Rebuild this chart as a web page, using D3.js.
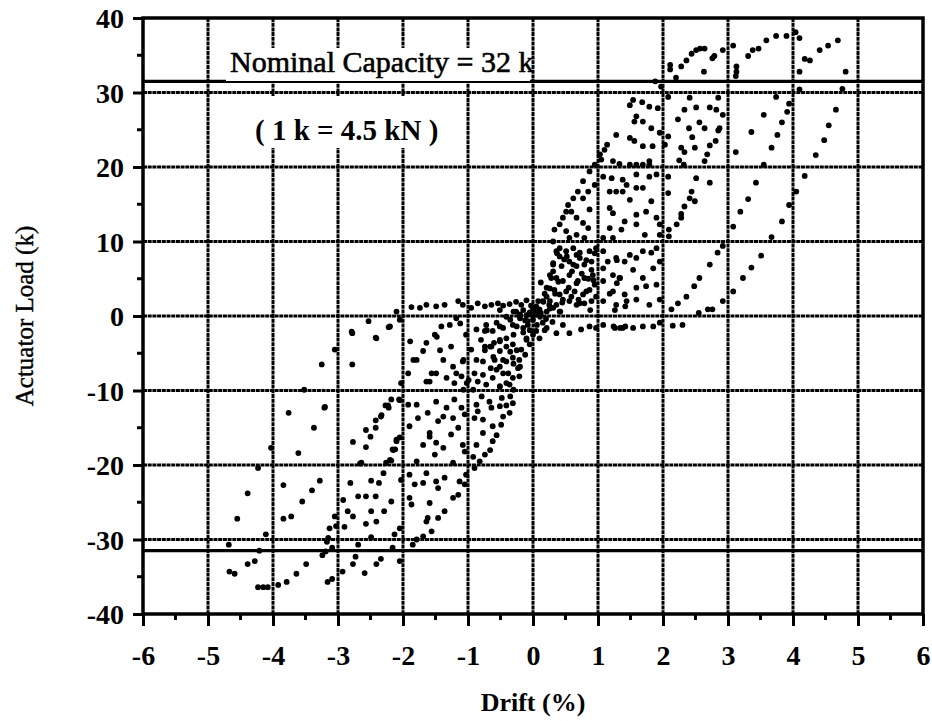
<!DOCTYPE html>
<html>
<head>
<meta charset="utf-8">
<script src="https://cdn.jsdelivr.net/npm/d3@7"></script>
<style>
  body { margin: 0; background: #fff; }
  svg { display: block; }
  text { font-family: "Liberation Serif", "Times New Roman", serif; fill: #000; }
</style>
</head>
<body>
<div id="chart"></div>
<script>
// drift (%) vs actuator load (k)
let posOuter = [
  [2.11,33.7],[2.11,33.1],[2.20,32.0],[2.28,33.5],[2.36,34.3],[2.44,35.2],[2.51,35.7],[2.57,35.9],[2.64,35.9],[2.63,32.8],
  [2.76,34.6],[2.79,34.9],[2.92,35.7],[3.08,36.3],[3.13,33.5],[3.13,32.8],[3.12,32.2],[3.31,34.9],[3.38,35.7],[3.47,35.9],
  [3.59,37.0],[3.74,37.6],[3.90,37.6],[4.04,38.1],[4.10,37.3],[4.10,32.8],[4.18,34.5],[4.26,34.3],[4.41,35.7],[4.54,36.3],
  [4.69,37.0],[4.81,32.8],[1.88,31.5],[1.97,30.8],
  [2.08,29.4],[2.41,29.3],[2.85,29.3],[2.33,27.7],[2.51,28.0],[2.72,28.0],[2.82,27.7],[2.92,27.0],[2.23,26.4],[2.56,26.0],
  [2.40,25.2],[2.64,25.2],[2.87,25.2],[2.85,24.9],[2.08,24.1],[2.45,24.0],[2.81,23.5],[2.72,22.9],[2.28,22.6],[2.49,22.6],
  [2.33,22.0],[2.68,21.7],[2.25,20.9],[2.64,20.8],[2.32,20.3],[2.03,23.0],
  [3.74,29.4],[3.94,28.5],[3.91,27.4],[3.55,27.0],[3.83,26.0],[3.36,24.7],[3.76,24.3],[3.67,22.6],[3.12,22.0],[3.55,20.3],
  [4.66,27.7],[4.55,25.6],[4.48,23.6],[4.35,21.6],[4.10,30.4],[4.76,30.5],
  [2.08,18.7],[2.08,16.5],[2.51,18.5],[2.72,17.9],[2.44,16.7],[2.41,15.8],[2.49,15.4],[2.33,14.7],[2.28,13.7],[2.28,13.2],
  [2.21,12.3],[2.09,11.6],[2.09,10.7],
  [3.43,17.9],[3.31,15.7],[3.19,14.0],[3.08,12.0],[3.94,14.9],[3.83,12.7],[3.67,10.6],[4.18,18.8],[4.05,16.7],
  [2.92,9.4],[2.84,8.5],[2.72,6.9],[2.56,5.1],[2.48,4.0],[2.36,2.6],[2.23,1.7],[2.13,0.9],[2.92,2.0],[2.69,0.9],
  [2.76,0.9],[2.55,0.4],[3.51,8.1],[3.36,6.5],[3.23,5.1],[3.08,3.3]
];

let posMid = [
  [1.54,29.0],[1.49,28.3],[1.68,28.7],[1.79,28.1],[1.92,27.9],[1.59,26.8],[1.56,26.1],[1.69,26.1],[1.82,25.2],[1.95,24.6],
  [1.28,24.3],[1.49,23.9],[1.56,23.5],[1.69,22.8],[1.84,22.8],[1.14,23.0],[1.10,22.3],[1.03,21.7],[1.05,21.0],[1.23,20.8],
  [1.33,20.4],[1.49,20.3],[1.59,20.3],[1.69,20.3],[1.79,20.3],[1.79,20.8],[0.95,20.3],
  [0.87,19.4],[0.77,18.1],[0.69,16.7],[0.62,15.8],[0.54,14.9],[0.51,14.0],[0.46,13.2],[0.41,12.3],[0.33,11.6],[0.59,14.0],
  [0.67,13.2],[0.77,12.5],[0.85,11.8],[0.77,15.8],[0.85,16.7],[0.95,17.6],[0.87,14.3],[0.67,10.9],[0.56,10.5],[0.79,10.5],
  [0.51,11.4],[0.31,10.0],[0.41,9.1],
  [1.08,18.7],[1.21,18.5],[1.38,18.3],[1.44,17.6],[1.59,19.0],[1.79,18.7],[1.90,19.0],[1.18,16.7],[1.28,16.7],[1.38,16.7],
  [1.59,17.2],[1.69,17.2],[1.49,15.6],[1.74,14.0],[1.90,13.2],[1.82,15.4],[1.59,13.6],[1.18,14.5],[1.23,13.8],[1.41,12.7],
  [1.18,11.8],[1.36,11.6],[1.59,12.3],[1.95,12.3],[1.08,10.5],[1.23,10.5],[1.72,10.9],[1.95,10.9],
  [1.08,8.7],[1.15,7.3],[1.28,7.8],[1.41,7.3],[1.49,8.2],[1.59,7.8],[1.69,8.7],[1.82,8.5],[1.90,9.1],[1.23,5.5],
  [1.33,5.1],[1.54,6.2],[1.69,5.1],[1.85,6.4],[1.95,7.3],[1.08,4.7],[1.23,3.3],[1.41,2.9],[1.59,3.8],[1.74,4.0],
  [1.90,4.2],[1.08,2.0],[1.28,1.5],[1.44,2.0],[1.59,2.2],[1.79,1.5],[1.95,2.2]
];

let zeroBand = [
  [-1.87,1.2],[-1.74,1.1],[-1.64,1.5],[-1.49,1.3],[-1.36,1.5],[-1.15,2.0],[-1.08,1.5],[-0.95,1.1],[-0.85,1.7],[-0.74,1.3],
  [-0.64,1.5],[-0.54,1.7],[-0.46,1.4],[-0.36,1.6],[-0.26,1.9],[-0.18,1.5],[-0.10,2.1],[-0.03,1.4],[-0.15,0.8],[-0.26,0.6],
  [-2.10,0.6],[-2.05,-0.5],
  [1.08,-1.2],[1.26,-1.6],[1.38,-1.6],[1.54,-1.6],[1.69,-1.4],[1.85,-1.4],[1.95,-0.9],[1.24,-1.4],[1.34,-1.6],[1.42,-1.4],
  [2.15,-1.3],[2.30,-1.2]
];

let core = [
  [0.36,8.7],[0.41,8.0],[0.51,8.7],[0.62,9.1],[0.72,8.5],[0.87,8.7],[0.97,9.1],[0.31,6.9],[0.44,6.7],[0.56,7.3],
  [0.67,6.7],[0.79,6.9],[0.90,7.3],[0.26,5.5],[0.36,5.1],[0.46,4.7],[0.56,5.5],[0.69,4.7],[0.79,5.1],[0.92,5.5],
  [0.21,3.8],[0.33,3.5],[0.41,2.9],[0.51,3.3],[0.64,3.3],[0.77,2.9],[0.87,3.5],[0.95,4.2],[0.15,2.0],[0.26,2.0],
  [0.36,1.5],[0.46,2.2],[0.56,2.0],[0.67,1.5],[0.79,1.7],[0.90,2.0],[0.97,2.6],[0.10,0.9],[0.21,0.6],[0.31,1.1],
  [0.41,0.6],[0.05,1.3],[0.03,0.6],[0.21,2.6],[0.26,3.7],[0.28,5.1],[0.31,6.0],
  [0.37,8.4],[0.52,8.0],[0.67,8.2],[0.82,7.5],[0.95,8.4],[0.31,7.1],[0.62,6.9],[0.75,5.7],[0.90,6.2],[0.39,4.6],
  [0.67,4.4],[0.82,3.3],[0.93,4.8],[0.34,3.0],[0.59,2.6],[0.72,1.7],[0.88,0.8],[0.16,1.9],[0.26,1.0],[0.42,0.6],
  [-0.51,0.8],[-0.41,-0.1],[-0.30,0.6],[-0.20,-0.3],[-0.10,0.1],[0.0,-0.5],[0.11,-0.1],[-0.25,-1.4],[-0.05,-1.9],[0.06,-1.2],
  [0.18,-1.9],[-0.51,-1.4],[-0.71,-1.9],[-0.30,-2.5],[-0.10,-3.2],[0.0,-2.5],[-0.41,-4.1],[-0.25,-4.6],[-0.51,-3.2],[-0.66,-4.1],
  [-0.74,-4.6],[-0.61,-5.5],[-0.46,-5.9],[-0.30,-6.4],[-0.56,-7.2],[-0.38,-7.7],[-0.23,-7.0],[-0.41,-9.0],[-0.51,-9.5],[-0.30,-9.9],
  [-0.92,-9.9],[-1.02,-9.0],[-1.07,-9.9],
  [1.18,3.0],[1.08,6.4],[1.29,4.4],[1.29,7.5],[1.34,5.1],[1.26,0.8],[1.42,1.3],
  [0.10,-3.0],[0.36,-2.3],[0.56,-2.3],[0.74,-1.8],[0.87,-1.4],[0.97,-1.6],[0.21,-1.6],[0.46,-1.2],[0.15,-0.9],
  [-0.87,-1.8],[-0.74,-2.0],[-0.62,-2.0],[-0.74,-4.1],[-0.64,-4.1],[-0.51,-3.4],[-0.41,-3.0],[-0.87,-5.9],[-0.77,-6.1],[-0.59,-5.9],
  [-0.51,-6.8],[-0.41,-6.1],[-0.31,-5.6],[-0.21,-5.9],[-0.90,-7.7],[-0.77,-7.9],[-0.62,-8.3],[-0.46,-7.7],[-0.31,-8.3],[-0.21,-8.1],
  [-0.72,-9.2],[-0.51,-9.4],[-0.36,-9.2],[-0.31,-3.8],[-0.18,-4.5],[-0.10,-3.0],[-0.51,-4.7],[-0.46,-1.6],[-0.31,-1.2],[-0.15,-1.6],
  [-0.08,-0.7],[-0.72,-1.2],[-0.56,-0.9],
  [-0.05,0.5],[0.05,0.2],[-0.12,-0.6],[0.12,0.4],[0.20,-0.4],[-0.20,0.2],[0.00,1.0],[0.08,2.0],[-0.08,-1.2],[0.25,1.5],
  [0.18,3.0],[0.12,4.5],[0.05,-2.0],[-0.15,-2.2],[0.30,-0.8],[-0.35,-0.5],[0.45,1.8],[0.55,3.8],[0.60,6.0],[0.48,7.6],
  [0.72,7.8],[0.85,5.0],[0.70,2.2],[-0.05,-3.8],[-0.12,-5.2],[-0.20,-6.8],[-0.35,-4.8],[-0.60,-3.6],[-0.80,-3.2],[-0.95,-4.5],
  [-0.85,-8.8],[-0.65,-7.0]
];

let negInner = [
  [-1.92,-7.7],[-1.79,-5.9],[-1.64,-3.6],[-1.51,-2.5],[-1.69,-4.7],[-1.38,-5.9],[-1.26,-4.1],[-1.23,-6.8],[-1.18,-7.7],[-1.33,-8.3],
  [-1.49,-7.7],[-1.59,-8.8],[-1.21,-9.0],[-1.08,-6.1],[-1.10,-8.1],[-1.28,-1.2],[-1.18,-0.3],[-1.03,-2.5],
  [-1.89,-3.4],[-1.84,-5.9],[-1.56,-7.7],[-1.48,-2.8],[-1.43,-4.6],[-1.12,-1.0],[-1.07,-5.9],[-0.99,-8.6],[-1.64,-8.8],[-1.41,-1.4]
];

let negMid = [
  [-1.79,-11.9],[-1.77,-13.7],[-1.90,-14.8],[-1.62,-13.0],[-1.49,-11.5],[-1.46,-14.1],[-1.38,-13.5],[-1.59,-15.7],[-1.59,-16.2],[-1.33,-12.3],
  [-1.23,-13.7],[-1.21,-11.2],[-1.10,-12.3],[-1.69,-17.3],[-1.49,-17.0],[-1.38,-17.7],[-1.26,-15.9],[-1.15,-15.0],[-1.05,-13.2],[-1.51,-18.6],
  [-1.79,-19.5],[-1.23,-19.7],[-1.08,-17.3],[-1.05,-18.2],[-1.92,-11.9],
  [-0.87,-11.9],[-0.85,-12.8],[-0.90,-13.7],[-0.77,-13.9],[-0.67,-11.5],[-0.64,-12.3],[-0.51,-12.1],[-0.77,-15.7],[-0.62,-14.8],[-0.49,-14.6],
  [-0.46,-13.5],[-0.36,-13.0],[-0.31,-11.7],[-0.87,-17.3],[-0.74,-18.6],[-0.62,-16.8],[-0.82,-19.5],[-0.90,-20.4],
  [-0.79,-10.8],[-0.48,-11.0],[-0.35,-10.8],[-0.41,-12.0],[-0.56,-16.0],[-0.66,-18.0],[-0.92,-18.9],
  [-1.90,-21.3],[-1.82,-22.6],[-1.90,-24.4],[-1.87,-25.3],[-1.64,-21.1],[-1.69,-22.4],[-1.49,-22.2],[-1.46,-23.1],[-1.36,-21.7],[-1.59,-25.1],
  [-1.62,-27.1],[-1.64,-27.6],[-1.46,-27.1],[-1.36,-26.2],[-1.23,-24.4],[-1.15,-24.0],[-1.13,-22.2],[-1.05,-22.6],[-1.03,-21.3],[-1.56,-28.9],
  [-1.69,-29.6],[-1.79,-30.0],[-1.85,-30.7]
];

let negOuter = [
  [-3.05,-4.5],[-3.25,-6.5],[-2.78,-6.5],[-2.78,-2.3],[-2.42,-2.9],[-2.22,-1.5],[-2.53,-0.7],[-3.52,-9.9],[-2.03,-9.0],
  [-2.79,-2.1],[-2.41,-3.0],[-2.20,-1.4],
  [-3.76,-13.0],[-3.21,-12.3],[-3.37,-15.0],[-3.61,-18.4],[-4.03,-17.7],[-2.77,-16.9],[-2.57,-17.6],[-2.57,-15.3],[-2.50,-16.2],[-2.42,-14.0],
  [-2.34,-13.5],[-2.42,-15.0],[-2.27,-12.0],[-2.22,-12.3],[-2.18,-11.2],[-2.06,-11.2],[-2.10,-16.8],[-2.16,-17.9],[-2.12,-17.9],[-2.05,-16.3],
  [-2.64,-19.7],[-2.26,-19.7],[-2.18,-19.4],[-3.20,-12.2],[-2.33,-13.3],[-2.23,-12.0],[-2.05,-11.3],[-2.10,-16.6],[-2.15,-18.0],[-2.66,-19.8],
  [-2.20,-19.3],
  [-4.23,-20.4],[-4.39,-23.8],[-4.55,-27.2],[-4.11,-29.3],[-3.84,-22.7],[-3.72,-26.9],[-3.84,-27.2],[-3.55,-24.9],[-3.40,-23.4],[-3.28,-22.1],
  [-3.05,-26.9],[-3.13,-28.5],[-3.03,-28.2],[-3.15,-29.8],[-2.81,-22.4],[-2.69,-24.2],[-2.57,-24.2],[-2.42,-24.2],[-2.49,-22.1],[-2.37,-22.4],
  [-2.30,-21.1],[-2.18,-24.9],[-2.03,-22.0],[-2.92,-24.7],[-2.85,-26.2],[-2.77,-26.9],[-2.90,-28.3],[-2.57,-27.9],[-2.49,-26.2],[-2.41,-27.6],
  [-2.29,-26.2],[-2.49,-29.7],[-2.13,-29.3],[-2.05,-28.5],
  [-4.68,-30.7],[-4.21,-31.5],[-4.28,-32.9],[-4.39,-33.3],[-4.67,-34.3],[-4.59,-34.6],[-4.23,-36.4],[-4.15,-36.4],[-4.08,-36.4],[-3.92,-36.1],
  [-3.79,-35.7],[-3.64,-34.6],[-3.49,-33.3],[-3.24,-32.1],[-3.19,-31.6],[-3.09,-31.1],[-3.16,-35.7],[-3.09,-35.3],[-2.93,-34.3],[-2.77,-33.3],
  [-2.73,-32.3],[-2.59,-34.5],[-2.41,-33.3],[-2.34,-32.6],[-2.05,-32.9],[-2.69,-30.7],[-2.16,-31.1],[-3.17,-30.3]
];

let xTicks = [-6, -5, -4, -3, -2, -1, 0, 1, 2, 3, 4, 5, 6];
let yTicks = [-40, -30, -20, -10, 0, 10, 20, 30, 40];
let capacityLines = [31.5, -31.5];

let width = 932, height = 721;
let margin = {left: 143, right: 9, top: 18, bottom: 107};

let x = d3.scaleLinear().domain([-6, 6]).range([margin.left, width - margin.right]);
let y = d3.scaleLinear().domain([-40, 40]).range([height - margin.bottom, margin.top]);

let svg = d3.select('#chart').append('svg')
  .attr('width', width)
  .attr('height', height);

// grid (dense dotted, as in the scan)
let grid = svg.append('g').attr('class', 'grid');
grid.selectAll('.vgrid')
  .data(xTicks.slice(1, -1))
  .enter().append('line')
  .attr('x1', d => x(d)).attr('x2', d => x(d))
  .attr('y1', y(40)).attr('y2', y(-40))
  .attr('stroke', '#000').attr('stroke-width', 3)
  .attr('stroke-dasharray', '4,0.7');

grid.selectAll('.hgrid')
  .data(yTicks.slice(1, -1))
  .enter().append('line')
  .attr('x1', x(-6)).attr('x2', x(6))
  .attr('y1', d => y(d)).attr('y2', d => y(d))
  .attr('stroke', '#000').attr('stroke-width', 3)
  .attr('stroke-dasharray', '4,0.7');

svg.selectAll('.cap')
  .data(capacityLines)
  .enter().append('line')
  .attr('x1', x(-6)).attr('x2', x(6))
  .attr('y1', d => y(d)).attr('y2', d => y(d))
  .attr('stroke', '#000').attr('stroke-width', 3.2);

// annotation boxes knock out the grid behind the text
svg.append('rect').attr('x', 226).attr('y', 48).attr('width', 304).attr('height', 33).attr('fill', '#fff');
svg.append('rect').attr('x', 250).attr('y', 96).attr('width', 206).attr('height', 52).attr('fill', '#fff');

svg.append('text')
  .attr('x', 230).attr('y', 72)
  .style('font-size', '30px')
  .attr('stroke', '#000').attr('stroke-width', 0.6)
  .text('Nominal Capacity = 32 k');

svg.append('text')
  .attr('x', 255).attr('y', 140)
  .style('font-size', '29px').style('font-weight', 'bold')
  .text('( 1 k = 4.5 kN )');

// points
let allPoints = [].concat(posOuter, posMid, zeroBand, core, negInner, negMid, negOuter);
svg.append('g').attr('class', 'points')
  .selectAll('circle')
  .data(allPoints)
  .enter().append('circle')
  .attr('cx', d => x(d[0]))
  .attr('cy', d => y(d[1]))
  .attr('r', 2.9)
  .attr('fill', '#000');

// frame
svg.append('rect')
  .attr('x', x(-6)).attr('y', y(40))
  .attr('width', x(6) - x(-6)).attr('height', y(-40) - y(40))
  .attr('fill', 'none').attr('stroke', '#000').attr('stroke-width', 3.5);

// axes
let xAxis = d3.axisBottom(x).tickValues(xTicks).tickSize(12).tickFormat(d => String(d));
let yAxis = d3.axisLeft(y).tickValues(yTicks).tickSize(10).tickFormat(d => String(d));

let gx = svg.append('g').attr('transform', `translate(0,${y(-40)})`).call(xAxis);
let gy = svg.append('g').attr('transform', `translate(${x(-6)},0)`).call(yAxis);

[gx, gy].forEach(g => {
  g.select('.domain').remove();
  g.selectAll('.tick line').attr('stroke', '#000').attr('stroke-width', 3);
  g.selectAll('.tick text')
    .style('font-family', '"Liberation Serif", serif')
    .style('font-size', '28px').style('font-weight', 'bold')
    .attr('fill', '#000');
});
gx.selectAll('.tick text').attr('dy', '1.3em');
gy.selectAll('.tick text').attr('x', -19).attr('dy', '0.34em');

// minor ticks
svg.selectAll('.xminor')
  .data(xTicks.slice(0, -1).map(d => d + 0.5))
  .enter().append('line')
  .attr('x1', d => x(d)).attr('x2', d => x(d))
  .attr('y1', y(-40)).attr('y2', y(-40) + 6)
  .attr('stroke', '#000').attr('stroke-width', 3);

svg.selectAll('.yminor')
  .data(yTicks.slice(0, -1).map(d => d + 5))
  .enter().append('line')
  .attr('x1', x(-6) - 6).attr('x2', x(-6))
  .attr('y1', d => y(d)).attr('y2', d => y(d))
  .attr('stroke', '#000').attr('stroke-width', 3);

// axis titles
svg.append('text')
  .attr('x', (x(-6) + x(6)) / 2).attr('y', 711)
  .attr('text-anchor', 'middle')
  .style('font-size', '26px').style('font-weight', 'bold')
  .text('Drift (%)');

svg.append('text')
  .attr('transform', `translate(33,${(y(40) + y(-40)) / 2}) rotate(-90)`)
  .attr('text-anchor', 'middle')
  .style('font-size', '25px')
  .attr('stroke', '#000').attr('stroke-width', 0.4)
  .text('Actuator Load  (k)');
</script>
</body>
</html>
